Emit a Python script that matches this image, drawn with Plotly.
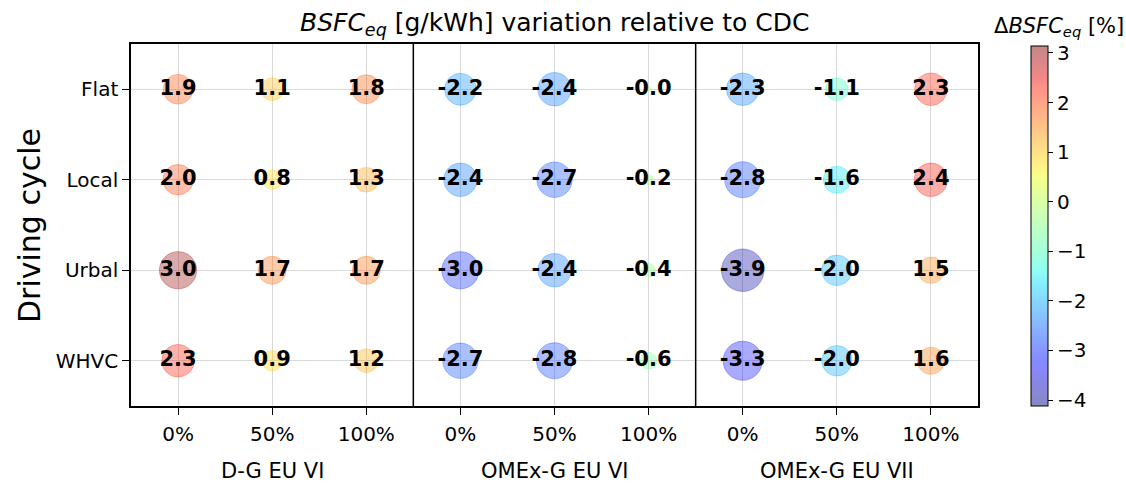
import numpy as np
import plotly.graph_objects as go

# Driving cycles (rows) and EGR/blend levels (columns) for the three engine setups
cycles = ["Flat", "Local", "Urbal", "WHVC"]
levels = ["0%", "50%", "100%"]
setups = ["D-G EU VI", "OMEx-G EU VI", "OMEx-G EU VII"]

# BSFC_eq change relative to CDC [%], one list per setup, rows follow `cycles`
dg_eu6 = [[1.9, 1.1, 1.8],
          [2.0, 0.8, 1.3],
          [3.0, 1.7, 1.7],
          [2.3, 0.9, 1.2]]
omex_eu6 = [[-2.2, -2.4, -0.04],
            [-2.4, -2.7, -0.2],
            [-3.0, -2.4, -0.4],
            [-2.7, -2.8, -0.6]]
omex_eu7 = [[-2.3, -1.1, 2.3],
            [-2.8, -1.6, 2.4],
            [-3.9, -2.0, 1.5],
            [-3.3, -2.0, 1.6]]

CMIN, CMAX = -4.12, 3.14
ALPHA = 0.47

# Figure geometry (pixels)
W, H = 1126, 483
ML, MR, MT, MB = 131, 148, 44, 77
PW, PH = W - ML - MR, H - MT - MB


def px_x(p):
    return (p - ML) / PW


def px_y(p):
    return (H - MB - p) / PH


def jet_scale(alpha, n=64):
    """Matplotlib 'jet' colormap as a translucent Plotly colorscale."""
    t = np.linspace(0, 1, n)
    r = np.interp(t, [0, 0.35, 0.66, 0.89, 1], [0, 0, 1, 1, 0.5])
    g = np.interp(t, [0, 0.125, 0.375, 0.64, 0.91, 1], [0, 0, 1, 1, 0, 0])
    b = np.interp(t, [0, 0.11, 0.34, 0.65, 1], [0.5, 1, 1, 0, 0])
    return [[float(ti), f"rgba({int(ri*255)},{int(gi*255)},{int(bi*255)},{alpha})"]
            for ti, ri, gi, bi in zip(t, r, g, b)]


scale = jet_scale(ALPHA)

xs, ys, vals = [], [], []
for si, table in enumerate([dg_eu6, omex_eu6, omex_eu7]):
    for ri, row in enumerate(table):
        for li, v in enumerate(row):
            xs.append(si * len(levels) + li)
            ys.append(len(cycles) - 1 - ri)
            vals.append(v)
vals = np.array(vals)
labels = [f"{v:.1f}" for v in vals]

# bubble area proportional to |change|
diam = np.sqrt(np.abs(vals))

fig = go.Figure()
fig.add_trace(go.Scatter(
    x=xs, y=ys, mode="markers+text",
    text=labels, textposition="middle center",
    textfont=dict(family="DejaVu Sans", size=21, color="black", weight="bold"),
    marker=dict(
        size=diam, sizemode="diameter", sizeref=1 / 21.5, sizemin=0,
        color=vals, colorscale=scale, cmin=CMIN, cmax=CMAX,
        line=dict(width=1, color=vals, colorscale=scale, cmin=CMIN, cmax=CMAX),
        showscale=True,
        colorbar=dict(
            xref="paper", x=px_x(1031), xanchor="left", xpad=0,
            yref="paper", y=px_y(226), yanchor="middle", ypad=0,
            thickness=17, thicknessmode="pixels",
            len=360, lenmode="pixels",
            outlinecolor="black", outlinewidth=1,
            ticks="outside", ticklen=5, tickcolor="black",
            tickvals=[3, 2, 1, 0, -1, -2, -3, -4],
            tickfont=dict(family="DejaVu Sans", size=20, color="black"),
        ),
    ),
    hoverinfo="skip", showlegend=False,
))

ncols = len(setups) * len(levels)
fig.update_xaxes(
    range=[-0.5, ncols - 0.5],
    tickvals=list(range(ncols)), ticktext=levels * len(setups),
    showline=True, mirror=True, linecolor="black", linewidth=1.5,
    showgrid=True, gridcolor="#dadada", gridwidth=1, zeroline=False,
    ticks="outside", ticklen=7, tickcolor="black", ticklabelstandoff=2,
    tickfont=dict(family="DejaVu Sans", size=20, color="black"),
)
fig.update_yaxes(
    range=[-0.5, len(cycles) - 0.5],
    tickvals=list(range(len(cycles))), ticktext=cycles[::-1],
    showline=True, mirror=True, linecolor="black", linewidth=1.5,
    showgrid=True, gridcolor="#dadada", gridwidth=1, zeroline=False,
    ticks="outside", ticklen=7, tickcolor="black",
    tickfont=dict(family="DejaVu Sans", size=20, color="black"),
)

# Separators between the three setups
for k in range(1, len(setups)):
    fig.add_shape(type="line", xref="x", yref="paper",
                  x0=k * len(levels) - 0.5, x1=k * len(levels) - 0.5, y0=0, y1=1,
                  line=dict(color="black", width=1.5))

# Setup names under each group of columns
for si, name in enumerate(setups):
    fig.add_annotation(text=name, xref="x", x=si * len(levels) + 1,
                       yref="paper", y=px_y(471), yanchor="middle",
                       showarrow=False,
                       font=dict(family="DejaVu Sans", size=21, color="black"))

fig.add_annotation(text="<i>BSFC</i><sub><i>eq</i></sub> [g/kWh] variation relative to CDC",
                   xref="paper", x=0.5, xanchor="center", yref="paper", y=px_y(24),
                   yanchor="middle", showarrow=False,
                   font=dict(family="DejaVu Sans", size=25, color="black"))
fig.add_annotation(text="Δ<i>BSFC</i><sub><i>eq</i></sub> [%]",
                   xref="paper", x=px_x(1059), xanchor="center",
                   yref="paper", y=px_y(27), yanchor="middle", showarrow=False,
                   font=dict(family="DejaVu Sans", size=21, color="black"))
fig.add_annotation(text="Driving cycle", textangle=-90,
                   xref="paper", x=px_x(30), yref="paper", y=px_y(226),
                   xanchor="center", yanchor="middle", showarrow=False,
                   font=dict(family="DejaVu Sans", size=30, color="black"))

fig.update_layout(
    width=W, height=H,
    margin=dict(l=ML, r=MR, t=MT, b=MB),
    paper_bgcolor="white", plot_bgcolor="white",
)

fig.write_html("out.html")
